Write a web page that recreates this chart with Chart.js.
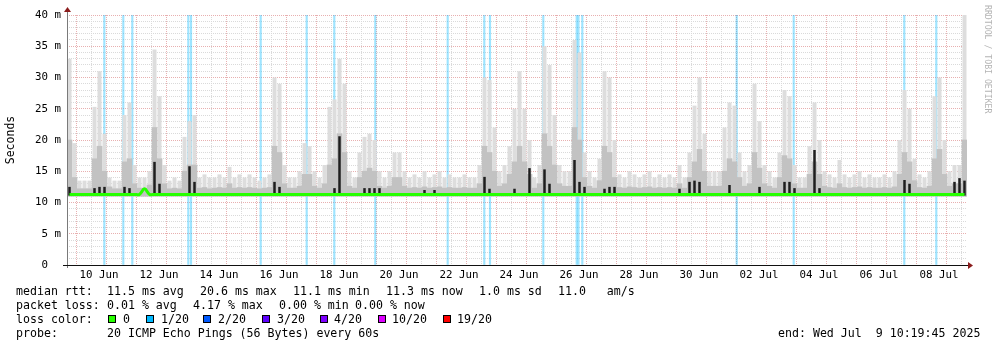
<!DOCTYPE html>
<html>
<head>
<meta charset="utf-8">
<title>smokeping 30 days</title>
<script src="https://cdn.jsdelivr.net/npm/chart.js@4.4.1/dist/chart.umd.min.js"></script>
<style>
  body { margin: 0; background: #fff; }
  #wrap { position: relative; width: 997px; height: 347px; font-family: "DejaVu Sans Mono", monospace; font-size: 11.6px; color: #000; }
  #wrap canvas { position: absolute; left: 0; top: 0; }
  .t { position: absolute; white-space: pre; line-height: 14px; }
  .box { position: absolute; width: 6px; height: 6px; border: 1px solid #000; top: 315px; }
  #credit { position: absolute; left: 983px; top: 5px; writing-mode: vertical-rl; font-size: 8.2px; line-height: 10px; color: #b4b4b4; white-space: pre; }
</style>
</head>
<body>
<div id="wrap">
  <canvas id="myChart" width="997" height="347"></canvas>
  <div id="credit">RRDTOOL / TOBI OETIKER</div>

  <div class="t" style="left:16px;top:284px">median rtt:</div>
  <div class="t" style="left:107px;top:284px">11.5 ms avg</div>
  <div class="t" style="left:200px;top:284px">20.6 ms max</div>
  <div class="t" style="left:293px;top:284px">11.1 ms min</div>
  <div class="t" style="left:386px;top:284px">11.3 ms now</div>
  <div class="t" style="left:479px;top:284px">1.0 ms sd</div>
  <div class="t" style="left:558px;top:284px">11.0   am/s</div>

  <div class="t" style="left:16px;top:298px">packet loss:</div>
  <div class="t" style="left:107px;top:298px">0.01 % avg</div>
  <div class="t" style="left:193px;top:298px">4.17 % max</div>
  <div class="t" style="left:279px;top:298px">0.00 % min</div>
  <div class="t" style="left:355px;top:298px">0.00 % now</div>

  <div class="t" style="left:16px;top:312px">loss color:</div>
  <div class="box" style="left:108px;background:#26ff00"></div>
  <div class="t" style="left:123px;top:312px">0</div>
  <div class="box" style="left:146px;background:#00b8ff"></div>
  <div class="t" style="left:161px;top:312px">1/20</div>
  <div class="box" style="left:203px;background:#0059ff"></div>
  <div class="t" style="left:218px;top:312px">2/20</div>
  <div class="box" style="left:262px;background:#5e00ff"></div>
  <div class="t" style="left:277px;top:312px">3/20</div>
  <div class="box" style="left:320px;background:#7e00ff"></div>
  <div class="t" style="left:334px;top:312px">4/20</div>
  <div class="box" style="left:378px;background:#dd00ff"></div>
  <div class="t" style="left:392px;top:312px">10/20</div>
  <div class="box" style="left:443px;background:#ff0000"></div>
  <div class="t" style="left:457px;top:312px">19/20</div>

  <div class="t" style="left:16px;top:326px">probe:</div>
  <div class="t" style="left:107px;top:326px">20 ICMP Echo Pings (56 Bytes) every 60s</div>
  <div class="t" style="left:778px;top:326px">end: Wed Jul  9 10:19:45 2025</div>
</div>

<script>
'use strict';

// time is counted in days of June (1 Jul = 31), graph ends Wed Jul 9 10:19:45
const startDay = 9 + (10 + 19 / 60 + 45 / 3600) / 24;
const endDay = startDay + 30;
const stepHours = 4;

// smoke, in ms: upper edge of the light, medium and dark smoke per 4 h column
const smokeMax = [
  33, 19.5, 13.5, 13.5, 13.5, 25.3, 31, 21, 14, 13.5,
  13.5, 24, 26, 16, 14, 14, 15, 34.5, 27, 16,
  13.5, 14, 13.5, 20.5, 23, 24, 14, 14.5, 14, 14,
  14.5, 14, 15.7, 14, 14.5, 14, 14.5, 14, 13.5, 14,
  14.5, 30, 29, 16, 14, 14, 15, 19.5, 19, 15,
  14, 16, 25.3, 26.5, 33, 29, 15, 14, 18, 20.5,
  21, 20, 15, 14, 15, 18, 18, 15, 14, 14.5,
  14, 15, 14, 14.5, 15, 14, 14.5, 14, 14, 14.5,
  14, 14, 16, 30, 29.6, 22, 15, 16, 19, 25,
  31, 25, 20, 14, 16, 35, 32, 24, 16, 15,
  15, 36, 34, 18, 15, 14, 17, 31, 30, 20,
  14.5, 14, 15, 14.5, 14, 14.5, 15, 14, 14.5, 14,
  14.5, 14, 16, 14, 18, 25.5, 30, 21, 15, 15,
  15, 22, 26, 25.5, 18, 15, 16, 29, 23, 16,
  15, 14, 18, 28, 27, 16, 14, 14, 19, 26,
  20, 15, 14.5, 14, 16.8, 14.5, 14, 14.5, 15, 14,
  14.5, 14, 14, 14.5, 14, 15, 20, 28, 25, 17,
  14.5, 14, 15, 27, 30, 20, 15, 16, 16, 40
];

const smokeMid = [
  20, 14, 12.2, 12.2, 12.2, 17, 19, 15, 12.5, 12.2,
  12.2, 16.5, 17, 13, 12.3, 12.3, 12.8, 22, 17, 13,
  12.2, 12.3, 12.2, 15, 16, 16, 12.3, 12.4, 12.2, 12.3,
  12.4, 12.3, 13, 12.3, 12.4, 12.3, 12.4, 12.3, 12.2, 12.3,
  12.4, 19, 18, 13, 12.3, 12.3, 12.6, 14.5, 14.5, 12.6,
  12.3, 13, 16, 17, 21, 18, 12.6, 12.3, 14, 15,
  15.5, 15, 12.6, 12.3, 12.6, 14, 14, 12.6, 12.3, 12.4,
  12.3, 12.5, 12.3, 12.4, 12.5, 12.3, 12.4, 12.3, 12.3, 12.4,
  12.3, 12.3, 13, 19, 18, 15, 12.6, 13, 14.5, 16.5,
  19, 16.5, 14.5, 12.3, 13, 21, 19, 16, 13, 12.6,
  12.6, 22, 20, 14, 12.6, 12.3, 13.5, 19, 18, 14,
  12.4, 12.3, 12.5, 12.4, 12.3, 12.4, 12.5, 12.3, 12.4, 12.3,
  12.4, 12.3, 13, 12.3, 14, 16.5, 18.5, 15, 12.6, 12.6,
  12.6, 15, 17, 16.5, 14, 12.6, 13, 18, 15.5, 13,
  12.6, 12.3, 14, 17.5, 17, 13, 12.3, 12.3, 14.5, 16.5,
  14.5, 12.6, 12.4, 12.3, 13, 12.4, 12.3, 12.4, 12.5, 12.3,
  12.4, 12.3, 12.3, 12.4, 12.3, 12.5, 14.5, 18, 16.5, 13.5,
  12.4, 12.3, 12.6, 17, 18.5, 14.5, 12.6, 13, 13, 20
];

const smokeDark = [
  12.5, 11.1, 11.1, 11.1, 11.1, 12.3, 12.5, 12.5, 11.1, 11.1,
  11.1, 12.5, 12.3, 11.1, 11.1, 11.1, 11.1, 16.5, 13, 11.1,
  11.1, 11.1, 11.1, 11.1, 15.8, 13.3, 11.1, 11.1, 11.1, 11.1,
  11.1, 11.1, 11.1, 11.1, 11.1, 11.1, 11.1, 11.1, 11.1, 11.1,
  11.1, 13.3, 12.5, 11.1, 11.1, 11.1, 11.1, 11.1, 11.1, 11.1,
  11.1, 11.1, 11.1, 12.3, 20.6, 11.1, 11.1, 11.1, 11.1, 12.3,
  12.3, 12.3, 12.3, 11.1, 11.1, 11.1, 11.1, 11.1, 11.1, 11.1,
  11.1, 12, 11.1, 12, 11.1, 11.1, 11.1, 11.1, 11.1, 11.1,
  11.1, 11.1, 11.1, 14.1, 12.2, 11.1, 11.1, 11.1, 11.1, 12.2,
  11.1, 11.1, 15.5, 11.1, 11.1, 15.3, 13, 11.1, 11.1, 11.1,
  11.1, 16.8, 13.3, 12.5, 11.1, 11.1, 11.1, 12.2, 12.5, 12.5,
  11.1, 11.1, 11.1, 11.1, 11.1, 11.1, 11.1, 11.1, 11.1, 11.1,
  11.1, 11.1, 12.2, 11.1, 13.3, 13.5, 13.3, 11.1, 11.1, 11.1,
  11.1, 11.1, 12.8, 11.1, 11.1, 11.1, 11.1, 11.1, 12.5, 11.1,
  11.1, 11.1, 11.1, 13.3, 13.3, 12.3, 11.1, 11.1, 11.1, 18.4,
  12.3, 11.1, 11.1, 11.1, 11.1, 11.1, 11.1, 11.1, 11.1, 11.1,
  11.1, 11.1, 11.1, 11.1, 11.1, 11.1, 11.1, 13.6, 13, 11.1,
  11.1, 11.1, 11.1, 11.1, 11.1, 11.1, 11.1, 13.3, 13.9, 13.5
];

const medianRtt = [
  11.3, 11.3, 11.3, 11.3, 11.3, 11.3, 11.3, 11.3, 11.3, 11.3,
  11.3, 11.3, 11.3, 11.3, 11.3, 12.2, 11.3, 11.3, 11.3, 11.3,
  11.3, 11.3, 11.3, 11.3, 11.3, 11.3, 11.3, 11.3, 11.3, 11.3,
  11.3, 11.3, 11.3, 11.3, 11.3, 11.3, 11.3, 11.3, 11.3, 11.3,
  11.3, 11.3, 11.3, 11.3, 11.3, 11.3, 11.3, 11.3, 11.3, 11.3,
  11.3, 11.3, 11.3, 11.3, 11.3, 11.3, 11.3, 11.3, 11.3, 11.3,
  11.3, 11.3, 11.3, 11.3, 11.3, 11.3, 11.3, 11.3, 11.3, 11.3,
  11.3, 11.3, 11.3, 11.3, 11.3, 11.3, 11.3, 11.3, 11.3, 11.3,
  11.3, 11.3, 11.3, 11.3, 11.3, 11.3, 11.3, 11.3, 11.3, 11.3,
  11.3, 11.3, 11.3, 11.3, 11.3, 11.3, 11.3, 11.3, 11.3, 11.3,
  11.3, 11.3, 11.3, 11.3, 11.3, 11.3, 11.3, 11.3, 11.3, 11.3,
  11.3, 11.3, 11.3, 11.3, 11.3, 11.3, 11.3, 11.3, 11.3, 11.3,
  11.3, 11.3, 11.3, 11.3, 11.3, 11.3, 11.3, 11.3, 11.3, 11.3,
  11.3, 11.3, 11.3, 11.3, 11.3, 11.3, 11.3, 11.3, 11.3, 11.3,
  11.3, 11.3, 11.3, 11.3, 11.3, 11.3, 11.3, 11.3, 11.3, 11.3,
  11.3, 11.3, 11.3, 11.3, 11.3, 11.3, 11.3, 11.3, 11.3, 11.3,
  11.3, 11.3, 11.3, 11.3, 11.3, 11.3, 11.3, 11.3, 11.3, 11.3,
  11.3, 11.3, 11.3, 11.3, 11.3, 11.3, 11.3, 11.3, 11.3, 11.3
];

// moments with 1/20 packet loss (day of June)
const lossDays = [
  10.674, 11.307, 11.607, 13.474, 13.564, 15.887, 17.420, 18.340, 19.707, 22.120,
  23.340, 23.530, 25.307, 26.420, 26.480, 26.607, 31.754, 33.654, 37.340, 38.407
];

const smokeBase = 11.0;
const yMax = 40;

function sampleDay(i) {
  return startDay + (i + 0.5) * stepHours / 24;
}

function dayLabel(value) {
  let day = Math.round(value - 0.5);
  if (Math.abs(value - day - 0.5) > 1e-6 || day % 2 !== 0) {
    return '';
  }
  if (day > 30) {
    return String(day - 30).padStart(2, '0') + ' Jul';
  }
  return String(day).padStart(2, '0') + ' Jun';
}

let majorGrid = '#e8b0b0';
let minorGrid = '#dadada';

function xGridColor(ctx) {
  if (!ctx.tick) {
    return minorGrid;
  }
  let v = ctx.tick.value;
  return Math.abs(v - Math.round(v)) < 1e-6 ? majorGrid : minorGrid;
}

function yGridColor(ctx) {
  if (!ctx.tick) {
    return minorGrid;
  }
  return ctx.tick.value % 5 === 0 ? majorGrid : minorGrid;
}

let monoFont = { family: 'DejaVu Sans Mono', size: 10.8 };

const axisArrows = {
  id: 'axisArrows',
  afterDraw(chart) {
    const ctx = chart.ctx;
    const a = chart.chartArea;
    ctx.save();
    ctx.lineWidth = 1;
    ctx.strokeStyle = '#7a7a7a';
    ctx.beginPath();
    ctx.moveTo(a.left + 0.5, a.bottom + 3);
    ctx.lineTo(a.left + 0.5, a.top - 4);
    ctx.stroke();
    ctx.strokeStyle = '#111';
    ctx.beginPath();
    ctx.moveTo(a.left - 4, a.bottom + 0.5);
    ctx.lineTo(a.right + 2, a.bottom + 0.5);
    ctx.stroke();
    ctx.fillStyle = '#8b1c1c';
    ctx.beginPath();
    ctx.moveTo(a.left - 3, a.top - 3);
    ctx.lineTo(a.left + 4, a.top - 3);
    ctx.lineTo(a.left + 0.5, a.top - 8);
    ctx.fill();
    ctx.beginPath();
    ctx.moveTo(a.right + 1, a.bottom - 3);
    ctx.lineTo(a.right + 1, a.bottom + 4);
    ctx.lineTo(a.right + 6, a.bottom + 0.5);
    ctx.fill();
    ctx.restore();
  }
};

let smokeLight = smokeMax.map((v, i) => ({ x: sampleDay(i), y: [smokeBase, v] }));
let smokeMedium = smokeMid.map((v, i) => ({ x: sampleDay(i), y: [smokeBase, v] }));
let smokeBlack = smokeDark.map((v, i) => ({ x: sampleDay(i), y: [11.1, v] }));
let medianLine = medianRtt.map((v, i) => ({ x: sampleDay(i), y: v }));
let lossBars = lossDays.map(d => ({ x: d, y: [0, yMax] }));

const config = {
  type: 'bar',
  data: {
    datasets: [
      {
        type: 'line',
        label: 'median rtt',
        data: medianLine,
        borderColor: '#26ff00',
        borderWidth: 3,
        pointRadius: 0,
        tension: 0.4,
      },
      {
        label: 'smoke dark',
        data: smokeBlack,
        backgroundColor: '#1e1e1e',
        grouped: false,
        categoryPercentage: 1,
        barPercentage: 0.5,
      },
      {
        label: 'smoke mid',
        data: smokeMedium,
        backgroundColor: '#c2c2c2',
        grouped: false,
        categoryPercentage: 1,
        barPercentage: 1,
      },
      {
        label: 'smoke',
        data: smokeLight,
        backgroundColor: '#dddddd',
        grouped: false,
        categoryPercentage: 1,
        barPercentage: 0.8,
      },
      {
        label: 'loss 1/20',
        data: lossBars,
        xAxisID: 'xl',
        backgroundColor: 'rgba(0,184,255,0.38)',
        grouped: false,
        categoryPercentage: 1,
        barPercentage: 1,
        maxBarThickness: 1.5,
      },
    ],
  },
  options: {
    responsive: false,
    animation: false,
    devicePixelRatio: 1,
    layout: { padding: { left: 0, top: 15, right: 30, bottom: 62 } },
    plugins: { legend: { display: false }, tooltip: { enabled: false } },
    scales: {
      x: {
        type: 'linear',
        min: startDay,
        max: endDay,
        offset: false,
        z: 1,
        afterBuildTicks: axis => {
          let ticks = [];
          for (let v = Math.ceil(startDay * 2) / 2; v <= endDay; v += 0.5) {
            ticks.push({ value: v });
          }
          axis.ticks = ticks;
        },
        afterFit: scale => { scale.height = 20; },
        ticks: {
          autoSkip: false,
          maxRotation: 0,
          padding: 4,
          color: '#000',
          font: monoFont,
          callback: value => dayLabel(value),
        },
        grid: {
          drawTicks: false,
          color: xGridColor,
        },
        border: { display: false, dash: [1, 1] },
      },
      xl: {
        type: 'linear',
        display: false,
        min: startDay,
        max: endDay,
        offset: false,
      },
      y: {
        min: 0,
        max: yMax,
        z: 1,
        afterFit: scale => { scale.width = 67; },
        ticks: {
          stepSize: 1,
          autoSkip: false,
          padding: 6,
          color: '#000',
          font: monoFont,
          callback: value => value % 5 !== 0 ? '' : (value === 0 ? '0  ' : value + ' m'),
        },
        grid: {
          drawTicks: false,
          color: yGridColor,
        },
        border: { display: false, dash: [1, 1] },
        title: {
          display: true,
          text: 'Seconds',
          color: '#000',
          font: { family: 'DejaVu Sans Mono', size: 11.5 },
          padding: { top: 4, bottom: 0 },
        },
      },
    },
  },
  plugins: [axisArrows],
};

let chartCanvas = document.getElementById('myChart').getContext('2d');
const myChart = new Chart(chartCanvas, config);
</script>
</body>
</html>
